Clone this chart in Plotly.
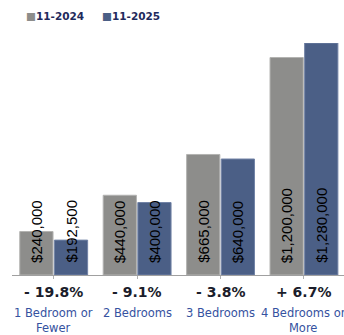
import plotly.graph_objects as go

# Median sale price by bedroom count, November 2024 vs November 2025
categories = ["1 Bedroom or<br>Fewer", "2 Bedrooms", "3 Bedrooms", "4 Bedrooms or<br>More"]
series_names = ["11-2024", "11-2025"]
prices_2024 = [240000, 440000, 665000, 1200000]
prices_2025 = [192500, 400000, 640000, 1280000]

GRAY = "#8d8d8b"
BLUE = "#4b5f86"
LABEL_BLUE = "#3552a0"
DARK = "#1b1d2b"
NAVY = "#1f2a5c"

x_idx = list(range(len(categories)))


def money(v):
    return "${:,.0f}".format(v)


def pct_change(a, b):
    p = (b - a) / a * 100
    sign = "+" if p >= 0 else "-"
    return "{} {:.1f}%".format(sign, abs(p))


fig = go.Figure()
fig.add_trace(go.Bar(
    x=x_idx, y=prices_2024, name=series_names[0],
    marker=dict(color=GRAY, line=dict(color="#b3b3b1", width=1)),
    showlegend=False, hoverinfo="skip",
))
fig.add_trace(go.Bar(
    x=x_idx, y=prices_2025, name=series_names[1],
    marker=dict(color=BLUE, line=dict(color="#7283a6", width=1)),
    showlegend=False, hoverinfo="skip",
))

bargap = 0.17
bargroupgap = 0.04
offset = (1 - bargap) / 4  # centre of each bar relative to its category

annotations = []
# rotated value labels sitting near the bottom of each bar
for i in x_idx:
    for vals, sgn in ((prices_2024, -1), (prices_2025, 1)):
        annotations.append(dict(
            x=i + sgn * offset, y=0, xref="x", yref="y",
            text=money(vals[i]), textangle=-90, showarrow=False,
            xanchor="center", yanchor="bottom", yshift=10,
            font=dict(family="Liberation Sans, Arial", size=15, color="#000000"),
        ))
    # change between the two periods
    annotations.append(dict(
        x=i, y=0, xref="x", yref="y",
        text="<b>" + pct_change(prices_2024[i], prices_2025[i]) + "</b>",
        showarrow=False, xanchor="center", yanchor="middle", yshift=-17,
        font=dict(family="DejaVu Sans", size=14, color=DARK),
    ))
    # category name
    annotations.append(dict(
        x=i, y=0, xref="x", yref="y",
        text=categories[i], showarrow=False,
        xanchor="center", yanchor="top", yshift=-29,
        font=dict(family="DejaVu Sans", size=11.5, color=LABEL_BLUE),
    ))

# legend row
for name, color, xp in ((series_names[0], GRAY, 0.035), (series_names[1], BLUE, 0.265)):
    annotations.append(dict(
        x=xp, y=1.118, xref="paper", yref="paper",
        text="<span style='color:%s'>■</span><b>%s</b>" % (color, name),
        showarrow=False, xanchor="left", yanchor="middle",
        font=dict(family="DejaVu Sans", size=10.5, color=NAVY),
    ))

fig.update_layout(
    width=344, height=335,
    margin=dict(l=12, r=0, t=43, b=60),
    paper_bgcolor="white", plot_bgcolor="white",
    barmode="group", bargap=bargap, bargroupgap=bargroupgap,
    annotations=annotations,
    xaxis=dict(
        range=[-0.5, 3.48], tickmode="array", tickvals=x_idx,
        showticklabels=False, showgrid=False, zeroline=False,
        showline=True, linecolor="#a0a0a0", linewidth=1,
        ticks="outside", tickson="boundaries", ticklen=3,
        tickcolor="#b0b0b0", tickwidth=1,
    ),
    yaxis=dict(range=[0, 1280000], visible=False, showgrid=False),
)

fig.write_html("out.html")
